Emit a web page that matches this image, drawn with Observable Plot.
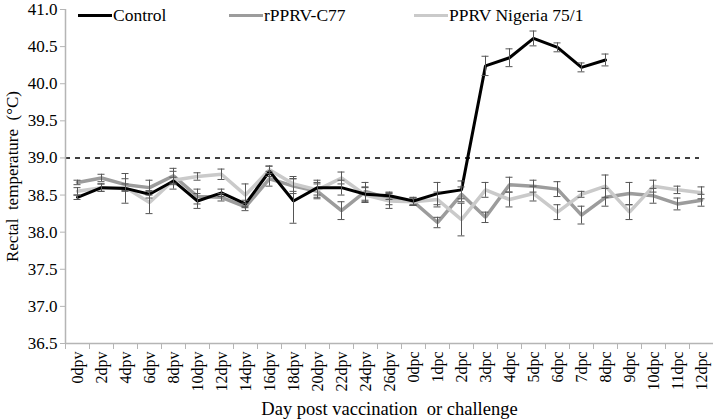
<!DOCTYPE html>
<html>
<head>
<meta charset="utf-8">
<script src="https://cdn.jsdelivr.net/npm/d3@7"></script>
<script src="https://cdn.jsdelivr.net/npm/@observablehq/plot@0.6"></script>
<style>
  html, body { margin: 0; padding: 0; background: #fff; }
  #wrap { position: relative; width: 713px; height: 420px; font-family: "Liberation Serif"; }
  .leg { position: absolute; top: 5px; font-family: "Liberation Serif"; font-size: 17.5px; color: #000; white-space: nowrap; display: flex; align-items: center; }
  .leg i { display: inline-block; width: 34px; height: 3px; margin-right: 1px; }
</style>
</head>
<body>
<div id="wrap"></div>
<script>
const categories = ["0dpv","2dpv","4dpv","6dpv","8dpv","10dpv","12dpv","14dpv","16dpv","18dpv","20dpv","22dpv","24dpv","26dpv",
  "0dpc","1dpc","2dpc","3dpc","4dpc","5dpc","6dpc","7dpc","8dpc","9dpc","10dpc","11dpc","12dpc"];
const seriesNames = ["Control", "rPPRV-C77", "PPRV Nigeria 75/1"];
const seriesColors = ["#000000", "#9c9c9c", "#cacaca"];
const controlValues = [38.47,38.60,38.59,38.51,38.69,38.42,38.53,38.38,38.82,38.42,38.60,38.60,38.51,38.49,
  38.42,38.52,38.57,40.24,40.35,40.61,40.49,40.22,40.32];
const controlErr = [0.03,0.05,0.20,0.05,0.05,0.10,0.05,0.05,0.07,0.30,0.10,0.10,0.10,0.05,
  0.05,0.15,0.12,0.13,0.12,0.10,0.06,0.06,0.08];
const rpprvValues = [38.67,38.73,38.64,38.60,38.76,38.48,38.47,38.34,38.72,38.62,38.55,38.29,38.55,38.45,
  38.41,38.13,38.51,38.20,38.64,38.62,38.58,38.23,38.47,38.52,38.49,38.38,38.43];
const rpprvErr = [0.03,0.05,0.08,0.10,0.10,0.10,0.05,0.05,0.10,0.10,0.10,0.12,0.12,0.08,
  0.05,0.07,0.10,0.07,0.10,0.08,0.10,0.12,0.12,0.15,0.10,0.08,0.08];
const nigeriaValues = [38.55,38.60,38.60,38.40,38.70,38.75,38.78,38.50,38.84,38.65,38.57,38.73,38.50,38.42,
  38.41,38.44,38.17,38.57,38.44,38.52,38.27,38.51,38.62,38.27,38.62,38.57,38.53];
const nigeriaErr = [0.05,0.05,0.05,0.15,0.12,0.05,0.07,0.15,0.05,0.10,0.10,0.08,0.10,0.10,
  0.05,0.10,0.22,0.10,0.10,0.10,0.10,0.04,0.15,0.10,0.08,0.05,0.08];
const thresholdValue = [39.0];
const yDomain = [36.5, 41];
const yTicks = [36.5, 37.0, 37.5, 38.0, 38.5, 39.0, 39.5, 40.0, 40.5, 41.0];

const valueSets = [controlValues, rpprvValues, nigeriaValues];
const errSets = [controlErr, rpprvErr, nigeriaErr];
const rows = [];
seriesNames.forEach((s, si) => {
  valueSets[si].forEach((v, i) => rows.push({cat: categories[i], series: s, value: v, err: errSets[si][i]}));
});
const bySeries = s => rows.filter(r => r.series === s);
const drawOrder = ["rPPRV-C77", "PPRV Nigeria 75/1", "Control"];
const widths = {"Control": 3, "rPPRV-C77": 3.5, "PPRV Nigeria 75/1": 3.5};
const FF = "Liberation Serif";

const marks = [
  Plot.ruleY(thresholdValue, {stroke: "#000", strokeWidth: 1.5, strokeDasharray: "5,5", insetRight: 14}),
  Plot.ruleY([yDomain[0]], {stroke: "#b5b5b5", strokeWidth: 1.5}),
  Plot.ruleX([categories[0]], {y1: yDomain[0], y2: yDomain[1], dx: -12, stroke: "#b5b5b5", strokeWidth: 1.5}),
  Plot.axisY({ticks: yTicks, tickFormat: d3.format(".1f"), tickSize: 5, tickPadding: 3, stroke: "#b5b5b5", fill: "#000", fontSize: 17, fontFamily: FF, label: null}),
  Plot.axisX({tickSize: 6, dx: -12, tickFormat: () => "", stroke: "#b5b5b5", label: null}),
  Plot.axisX({ticks: [categories[categories.length - 1]], tickSize: 6, dx: 12, tickFormat: () => "", stroke: "#b5b5b5", label: null}),
  Plot.axisX({tickSize: 0, tickRotate: -90, tickPadding: 8, fill: "#000", fontSize: 16, fontFamily: FF, label: null}),
  ...drawOrder.map(s => Plot.line(bySeries(s), {x: "cat", y: "value", stroke: seriesColors[seriesNames.indexOf(s)], strokeWidth: widths[s], strokeLinejoin: "miter"})),
  Plot.ruleX(rows, {x: "cat", y1: d => d.value - d.err, y2: d => d.value + d.err, stroke: "#555", strokeWidth: 1}),
  Plot.tickY(rows, {x: "cat", y: d => d.value - d.err, stroke: "#555", strokeWidth: 1, insetLeft: 8.5, insetRight: 8.5}),
  Plot.tickY(rows, {x: "cat", y: d => d.value + d.err, stroke: "#555", strokeWidth: 1, insetLeft: 8.5, insetRight: 8.5}),
  Plot.text(["Day post vaccination  or challenge"], {frameAnchor: "bottom", dy: 71, fontSize: 18.5, fontFamily: FF, fill: "#000"}),
  Plot.text(["Rectal  temperature  (°C)"], {frameAnchor: "left", textAnchor: "middle", dx: -53, rotate: -90, fontSize: 17, fontFamily: FF, fill: "#000"})
];

const chart = Plot.plot({
  width: 713,
  height: 420,
  marginLeft: 65,
  marginRight: 0,
  marginTop: 9,
  marginBottom: 77,
  style: {fontFamily: "Liberation Serif", background: "#fff", overflow: "visible"},
  x: {type: "band", domain: categories, padding: 0, axis: null},
  y: {domain: yDomain, axis: null},
  marks
});
d3.select(chart).selectAll("text").attr("font-family", FF).style("font-family", FF).style("white-space", "pre");
const wrap = document.getElementById("wrap");
wrap.appendChild(chart);

const legendLeft = [78, 229, 414];
seriesNames.forEach((s, i) => {
  const d = document.createElement("div");
  d.className = "leg";
  d.style.left = legendLeft[i] + "px";
  const sw = document.createElement("i");
  sw.style.background = seriesColors[i];
  d.appendChild(sw);
  d.appendChild(document.createTextNode(s));
  wrap.appendChild(d);
});
</script>
</body>
</html>
